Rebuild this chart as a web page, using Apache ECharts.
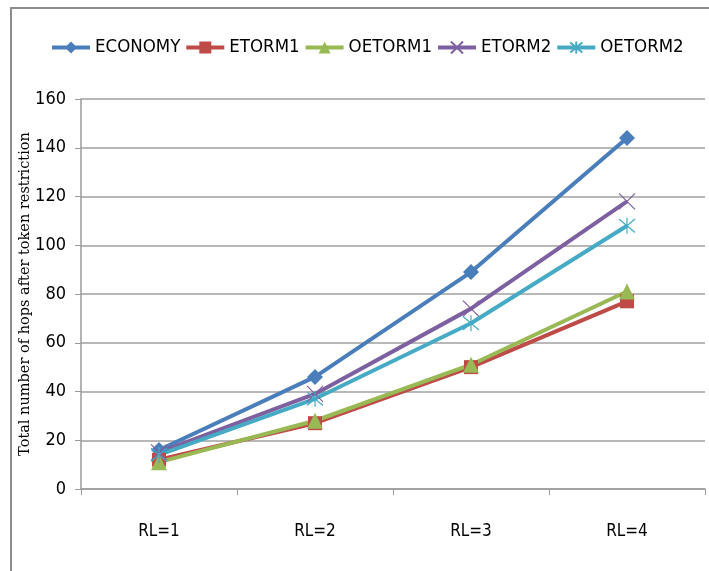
<!DOCTYPE html>
<html>
<head>
<meta charset="utf-8">
<script src="https://cdn.jsdelivr.net/npm/echarts@6/dist/echarts.min.js"></script>
<style>
  html, body { margin: 0; padding: 0; background: #fff; }
  #chart { width: 709px; height: 571px; }
</style>
</head>
<body>
<div id="chart"></div>
<script>
const categories = ['RL=1', 'RL=2', 'RL=3', 'RL=4']
const economy = [16, 46, 89, 144]
const etorm1 = [12, 27, 50, 77]
const oetorm1 = [11, 28, 51, 81]
const etorm2 = [15, 39, 74, 118]
const oetorm2 = [14, 37, 68, 108]

const labelFont = '"DejaVu Sans Condensed", "Liberation Sans Narrow", sans-serif'
const xMark = 'path://M0,0L10,10M10,0L0,10'
const starMark = 'path://M0,0L10,10M10,0L0,10M5,-1L5,11'

const mkSeries = (name, data, color, symbol, size, hollow) => ({
  name: name,
  type: 'line',
  data: data,
  symbol: symbol,
  symbolSize: size,
  lineStyle: { width: 4, color: color },
  itemStyle: hollow
    ? { color: 'none', borderColor: color, borderWidth: 1.2 }
    : { color: color },
  emphasis: { disabled: true },
  animation: false,
})

let myChart = echarts.init(document.getElementById('chart'))
let option = {
  backgroundColor: '#fff',
  graphic: [
    {
      type: 'rect',
      shape: { x: 11, y: 8, width: 720, height: 600 },
      style: { fill: 'none', stroke: '#8c8c8c', lineWidth: 2 },
      silent: true,
    },
  ],
  legend: {
    top: 33,
    left: 45,
    itemWidth: 38,
    itemHeight: 15,
    itemGap: 4,
    lineStyle: { width: 4 },
    textStyle: { fontFamily: labelFont, fontSize: 18.5, color: '#000' },
    data: ['ECONOMY', 'ETORM1', 'OETORM1', 'ETORM2', 'OETORM2'],
  },
  grid: {
    left: 81,
    right: 4,
    top: 99,
    bottom: 82,
  },
  xAxis: {
    type: 'category',
    data: categories,
    boundaryGap: true,
    axisLine: { lineStyle: { color: '#9a9a9a', width: 1.5 } },
    axisTick: { show: true, length: 6, lineStyle: { color: '#9a9a9a' } },
    axisLabel: { fontFamily: labelFont, fontSize: 17, color: '#000', margin: 34 },
  },
  yAxis: {
    type: 'value',
    min: 0,
    max: 160,
    interval: 20,
    name: 'Total number of hops after token restriction',
    nameLocation: 'middle',
    nameGap: 48,
    nameMoveOverlap: false,
    nameTextStyle: { fontFamily: '"DejaVu Serif", serif', fontSize: 14.5, color: '#000' },
    axisLine: { show: true, lineStyle: { color: '#9a9a9a', width: 1.5 } },
    axisTick: { show: true, length: 6, lineStyle: { color: '#9a9a9a' } },
    axisLabel: { fontFamily: labelFont, fontSize: 18, color: '#000', margin: 15 },
    splitLine: { lineStyle: { color: '#a0a0a0', width: 1.5 } },
  },
  series: [
    mkSeries('ECONOMY', economy, '#4a7ebb', 'diamond', 16, false),
    mkSeries('ETORM1', etorm1, '#be4b48', 'rect', 14, false),
    mkSeries('OETORM1', oetorm1, '#98b954', 'triangle', 16, false),
    mkSeries('ETORM2', etorm2, '#7d60a0', xMark, 16, true),
    mkSeries('OETORM2', oetorm2, '#46aac5', starMark, 16, true),
  ],
}
myChart.setOption(option)
</script>
</body>
</html>
